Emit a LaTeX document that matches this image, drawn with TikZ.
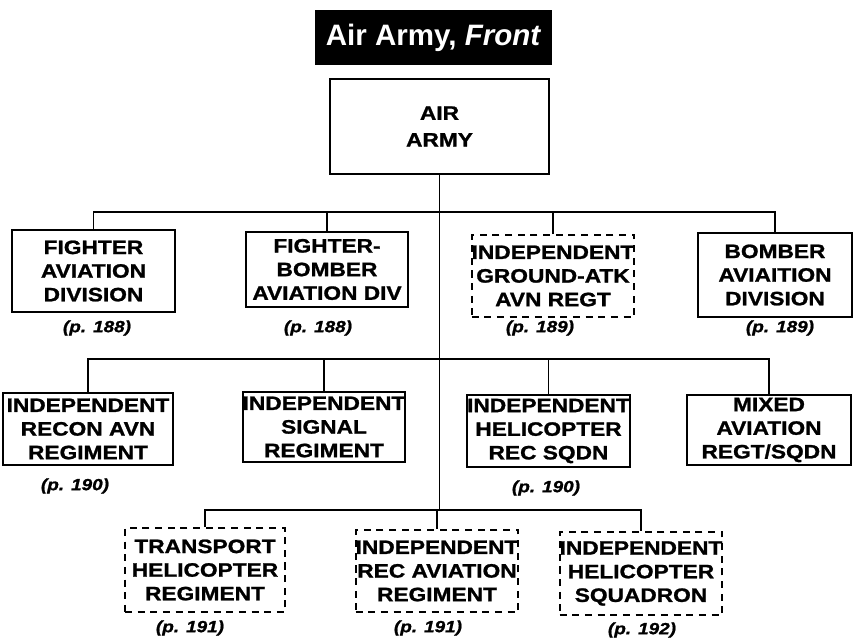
\documentclass[tikz,border=0pt]{standalone}
\usepackage{fontspec}
\setmainfont{Liberation Sans}
\newfontfamily\unitfont{Liberation Sans}[FakeStretch=1.17,FakeBold=1.2]
\tikzset{
  unit/.style 2 args={draw,line width=1.4pt,align=center,inner sep=0pt,
    minimum width=#1*0.025cm,minimum height=#2*0.025cm,
    font=\unitfont\bfseries\fontsize{13.8}{16.8}\selectfont},
  attached/.style 2 args={unit={#1}{#2},dash pattern=on 5pt off 4pt},
  page/.style={font=\unitfont\bfseries\itshape\fontsize{11.5}{13}\selectfont},
  link/.style={line width=1.4pt},
}

\begin{document}
\begin{tikzpicture}[x=0.025cm,y=-0.025cm]
  \useasboundingbox (0,0) rectangle (853,637);
  \node[fill=black,text=white,minimum width=237*0.025cm,minimum height=55*0.025cm,
    font=\bfseries\fontsize{21}{24}\selectfont] (title) at (433.5,37.5) {Air Army, \textit{Front}};
  \node[unit={219}{95},font=\unitfont\bfseries\fontsize{13.8}{19}\selectfont] (army) at (439.5,126.5) {AIR\\ARMY};

  % bus levels
  \coordinate (bus1) at (440,212);
  \coordinate (bus2) at (440,359);
  \coordinate (bus3) at (440,510);

  % first row: divisions
  \node[unit={163}{82}] (fad) at (93.5,271) {FIGHTER\\AVIATION\\DIVISION};
  \node[unit={162}{75}] (fbd) at (327,269.5) {FIGHTER-\\BOMBER\\AVIATION DIV};
  \node[attached={162}{82}] (gar) at (553,276) {INDEPENDENT\\GROUND-ATK\\AVN REGT};
  \node[unit={154}{84}] (bad) at (775,275) {BOMBER\\AVIAITION\\DIVISION};
  \node[page] (pfad) at (97,328) {(p. 188)};
  \node[page] (pfbd) at (318,328) {(p. 188)};
  \node[page] (pgar) at (540,328) {(p. 189)};
  \node[page] (pbad) at (780,328) {(p. 189)};

  % second row
  \node[unit={170}{72}] (rar) at (88,429) {INDEPENDENT\\RECON AVN\\REGIMENT};
  \node[unit={158}{70}] (sig) at (324,427) {INDEPENDENT\\SIGNAL\\REGIMENT};
  \node[unit={157}{72}] (hrs) at (548.5,431) {INDEPENDENT\\HELICOPTER\\REC SQDN};
  \node[unit={164}{70}] (mix) at (769,430) {MIXED\\AVIATION\\REGT/SQDN};
  \node[page] (prar) at (75,486) {(p. 190)};
  \node[page] (phrs) at (546,488) {(p. 190)};

  % third row
  \node[attached={160}{84}] (thr) at (205,570) {TRANSPORT\\HELICOPTER\\REGIMENT};
  \node[attached={162}{82}] (rav) at (437,571) {INDEPENDENT\\REC AVIATION\\REGIMENT};
  \node[attached={158}{83}] (hsq) at (641,573.5) {INDEPENDENT\\HELICOPTER\\SQUADRON};
  \node[page] (pthr) at (190,628) {(p. 191)};
  \node[page] (prav) at (428,628) {(p. 191)};
  \node[page] (phsq) at (642,630) {(p. 192)};

  \draw[link] (army.south) -- (army.south |- bus3);
  \draw[link] (fad.north) |- (bus1) -| (bad.north);
  \draw[link] (fbd.north) -- (fbd.north |- bus1);
  \draw[link] (gar.north) -- (gar.north |- bus1);
  \draw[link] (rar.north) |- (bus2) -| (mix.north);
  \draw[link] (sig.north) -- (sig.north |- bus2);
  \draw[link] (hrs.north) -- (hrs.north |- bus2);
  \draw[link] (thr.north) |- (bus3) -| (hsq.north);
  \draw[link] (rav.north) -- (rav.north |- bus3);
\end{tikzpicture}
\end{document}
